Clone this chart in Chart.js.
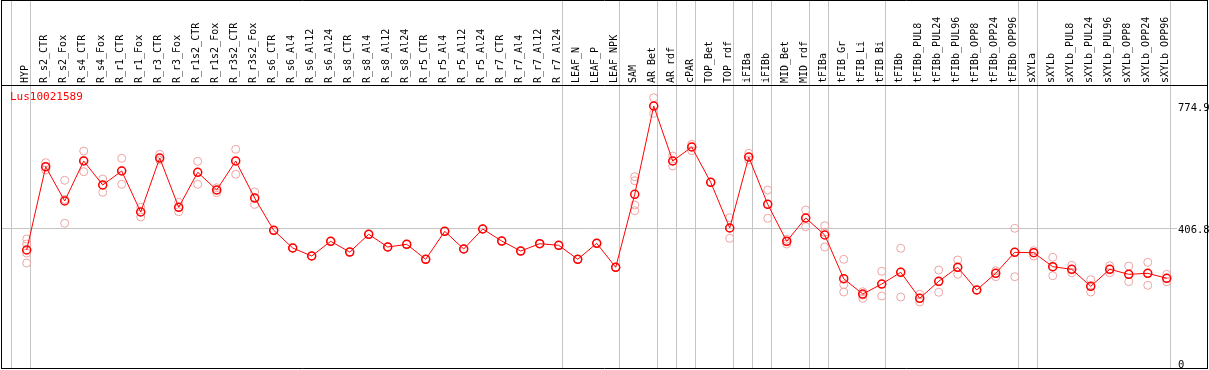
<!DOCTYPE html>
<html>
<head>
<meta charset="utf-8">
<script src="https://cdn.jsdelivr.net/npm/chart.js@4.4.1/dist/chart.umd.min.js"></script>
<style>
  body { margin: 0; background: #fff; }
  #wrap { width: 1209px; height: 370px; }
</style>
</head>
<body>
<div id="wrap"><canvas id="myChart" width="1209" height="370"></canvas></div>
<script>
let geneName = "Lus10021589";

let samples = ["HYP", "R_s2_CTR", "R_s2_Fox", "R_s4_CTR", "R_s4_Fox", "R_r1_CTR", "R_r1_Fox",
  "R_r3_CTR", "R_r3_Fox", "R_r1s2_CTR", "R_r1s2_Fox", "R_r3s2_CTR", "R_r3s2_Fox",
  "R_s6_CTR", "R_s6_Al4", "R_s6_Al12", "R_s6_Al24", "R_s8_CTR", "R_s8_Al4", "R_s8_Al12", "R_s8_Al24",
  "R_r5_CTR", "R_r5_Al4", "R_r5_Al12", "R_r5_Al24", "R_r7_CTR", "R_r7_Al4", "R_r7_Al12", "R_r7_Al24",
  "LEAF_N", "LEAF_P", "LEAF_NPK", "SAM", "AR_Bet", "AR_rdf", "cPAR", "TOP_Bet", "TOP_rdf",
  "iFIBa", "iFIBb", "MID_Bet", "MID_rdf", "tFIBa", "tFIB_Gr", "tFIB_Li", "tFIB_Bi",
  "tFIBb", "tFIBb_PUL8", "tFIBb_PUL24", "tFIBb_PUL96", "tFIBb_OPP8", "tFIBb_OPP24", "tFIBb_OPP96",
  "sXYLa", "sXYLb", "sXYLb_PUL8", "sXYLb_PUL24", "sXYLb_PUL96", "sXYLb_OPP8", "sXYLb_OPP24", "sXYLb_OPP96"];

// index of the last sample in each group (-1 = line before the first one)
let groupEnds = [-1, 0, 28, 31, 33, 34, 35, 37, 38, 39, 41, 42, 45, 52, 53, 60];

let means = [341.6, 592.2, 489.0, 609.4, 537.2, 579.3, 455.9, 618.4, 470.1, 575.4, 522.1, 609.4, 498.0,
  400.8, 347.6, 323.5, 367.7, 335.5, 388.8, 350.6, 358.7, 313.6, 397.8, 344.6, 404.8, 368.6, 338.5, 360.5, 355.7,
  313.6, 361.7, 289.5, 509.2, 774.9, 609.4, 651.5, 545.3, 407.8, 621.4, 479.1, 367.7, 437.9, 386.7,
  255.2, 209.1, 239.2, 274.4, 196.2, 247.4, 289.5, 221.2, 271.4, 334.6, 333.4, 291.3, 283.5, 232.3, 283.5, 268.4, 271.4, 256.4];

let rep1 = [374.7, 604.3, 551.3, 639.5, 555.2, 617.5, 470.1, 629.5, 485.1, 608.5, 529.0, 644.6, 516.1,
  400.8, 347.6, 323.5, 367.7, 335.5, 388.8, 350.6, 358.7, 313.6, 397.8, 344.6, 404.8, 368.6, 338.5, 360.5, 355.7,
  313.6, 361.7, 289.5, 562.1, 799.9, 624.4, 659.6, 545.3, 438.8, 632.6, 522.1, 373.8, 461.9, 414.7,
  313.6, 216.1, 277.5, 346.7, 208.2, 281.4, 311.5, 221.2, 279.3, 406.9, 339.5, 319.6, 295.5, 252.2, 294.3, 293.4, 304.5, 268.4];

let rep2 = [359.6, 591.3, 493.8, 611.5, 537.2, 581.1, 455.9, 618.4, 470.1, 575.4, 522.1, 609.4, 498.0,
  400.8, 347.6, 323.5, 367.7, 335.5, 388.8, 350.6, 358.7, 313.6, 397.8, 344.6, 404.8, 368.6, 338.5, 360.5, 355.7,
  313.6, 361.7, 289.5, 550.1, 774.9, 609.4, 652.4, 545.3, 407.8, 620.5, 479.1, 366.5, 437.9, 394.8,
  237.1, 206.1, 239.2, 276.3, 196.2, 246.2, 288.3, 221.2, 271.4, 335.5, 333.4, 290.4, 283.5, 233.2, 283.5, 268.4, 271.4, 256.4];

let rep3 = [332.5, 582.3, 421.9, 577.2, 515.2, 539.3, 440.9, 612.4, 456.8, 539.3, 514.0, 569.4, 479.1,
  400.8, 347.6, 323.5, 367.7, 335.5, 388.8, 350.6, 358.7, 313.6, 397.8, 344.6, 404.8, 368.6, 338.5, 360.5, 355.7,
  313.6, 361.7, 289.5, 477.0, 752.9, 594.3, 640.4, 545.3, 376.8, 612.4, 437.0, 359.6, 411.7, 350.6,
  215.2, 196.2, 203.1, 200.1, 185.1, 214.3, 268.4, 221.2, 261.2, 261.2, 323.5, 264.2, 273.2, 215.2, 273.2, 246.2, 235.3, 246.2];

let rep4 = samples.map(() => null);
rep4[0] = 302.4;
rep4[32] = 459.8;

let yTickValues = [0, 406.8, 774.9];
let yTickLabels = ["0", "406.8", "774.9"];

function pts(arr) {
  return arr.map((v, i) => ({ x: i, y: v }));
}

function repSet(arr) {
  return {
    data: pts(arr),
    showLine: false,
    pointRadius: 4,
    pointBorderWidth: 1,
    pointBorderColor: "#eda3a3",
    pointBackgroundColor: "rgba(0,0,0,0)",
    order: 1
  };
}

// no extra room for the first/last tick label
function noPad(s) {
  s.paddingLeft = 0;
  s.paddingRight = 0;
  s.paddingTop = 0;
  s.paddingBottom = 0;
}

const frame = {
  id: "frame",
  beforeDatasetsDraw(chart) {
    const ctx = chart.ctx;
    const xs = chart.scales.x;
    ctx.save();
    ctx.strokeStyle = "#c4c4c4";
    ctx.lineWidth = 1;
    groupEnds.forEach(g => {
      const px = Math.round(xs.getPixelForValue(g + 0.19)) + 0.5;
      ctx.beginPath();
      ctx.moveTo(px, 0);
      ctx.lineTo(px, 368);
      ctx.stroke();
    });
    ctx.restore();
  },
  afterDraw(chart) {
    const ctx = chart.ctx;
    ctx.save();
    ctx.strokeStyle = "#000";
    ctx.lineWidth = 1;
    ctx.beginPath();
    ctx.moveTo(1.5, 0); ctx.lineTo(1.5, 368.5);
    ctx.moveTo(1, 0.5); ctx.lineTo(1208, 0.5);
    ctx.moveTo(1, 85.5); ctx.lineTo(1208, 85.5);
    ctx.moveTo(1207.5, 0); ctx.lineTo(1207.5, 368.5);
    ctx.moveTo(1, 368.5); ctx.lineTo(1208, 368.5);
    ctx.stroke();
    ctx.fillStyle = "#ff0000";
    ctx.font = "11px 'DejaVu Sans Mono'";
    ctx.textBaseline = "middle";
    ctx.fillText(geneName, 10, 97);
    ctx.restore();
  }
};

Chart.defaults.font.family = "'DejaVu Sans Mono', monospace";
Chart.defaults.color = "#000";

var chart = new Chart("myChart", {
  type: "line",
  data: {
    datasets: [
      {
        data: pts(means),
        borderColor: "#ff0000",
        borderWidth: 1,
        tension: 0,
        pointRadius: 4,
        pointBorderWidth: 1.5,
        pointBorderColor: "#ff0000",
        pointBackgroundColor: "rgba(0,0,0,0)",
        order: 0
      },
      repSet(rep1),
      repSet(rep2),
      repSet(rep3),
      repSet(rep4)
    ]
  },
  options: {
    responsive: false,
    devicePixelRatio: 1,
    animation: false,
    layout: { autoPadding: false, padding: { left: 2, top: 0, right: 0, bottom: 2 } },
    plugins: { legend: { display: false }, tooltip: { enabled: false } },
    scales: {
      x: {
        type: "linear",
        position: "top",
        min: -1.3,
        max: 60.54,
        afterFit: s => { s.height = 86; noPad(s); },
        afterBuildTicks: s => { s.ticks = samples.map((_, i) => ({ value: i })); },
        grid: { display: false, drawTicks: false },
        border: { display: false },
        ticks: {
          autoSkip: false,
          minRotation: 90,
          maxRotation: 90,
          padding: 3,
          labelOffset: 11,
          font: { size: 10 },
          callback: v => samples[v]
        }
      },
      y: {
        type: "linear",
        position: "right",
        min: -13.5,
        max: 835.1,
        afterFit: s => { s.width = 32; noPad(s); },
        afterBuildTicks: s => { s.ticks = yTickValues.map(v => ({ value: v })); },
        grid: {
          drawTicks: false,
          color: c => (c.tick && c.tick.value === 406.8) ? "#c4c4c4" : "rgba(0,0,0,0)"
        },
        border: { display: false },
        ticks: {
          padding: 1,
          labelOffset: 2,
          font: { size: 10.5 },
          callback: v => yTickLabels[yTickValues.indexOf(v)]
        }
      }
    }
  },
  plugins: [frame]
});
</script>
</body>
</html>
